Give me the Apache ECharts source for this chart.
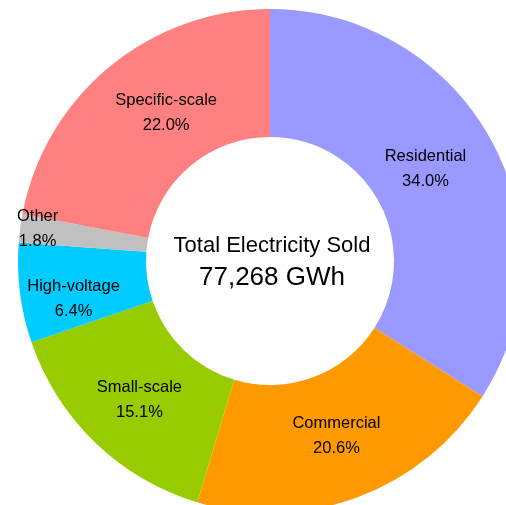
<!DOCTYPE html>
<html><head><meta charset="utf-8">
<script src="https://cdn.jsdelivr.net/npm/echarts@6/dist/echarts.min.js"></script>
<style>html,body{margin:0;padding:0;background:#fff}#c{width:506px;height:505px}</style>
</head><body><div id="c"></div>
<script>
const categories = ['Residential','Commercial','Small-scale','High-voltage','Other','Specific-scale'];
const values = [34.0, 20.6, 15.1, 6.4, 1.8, 22.0];
const colors = ['#9999FF','#FF9900','#99CC00','#00CCFF','#C0C0C0','#FF8080'];
const centerTitle = 'Total Electricity Sold';
const centerValue = '77,268 GWh';
const labelOffsets = {Residential:[-12,0], Commercial:[0,-4], 'High-voltage':[-7,14], Other:[-43,-7], 'Specific-scale':[18,-1], 'Small-scale':[2,1]};

const chart = echarts.init(document.getElementById('c'), null, {renderer:'canvas'});
chart.setOption({
  animation:false,
  title:{
    text:centerTitle+'\n{v|'+centerValue+'}',
    left:267, top:225, textAlign:'center',
    textStyle:{fontFamily:'Liberation Sans, Arial, sans-serif',fontSize:22,fontWeight:'normal',color:'#000',lineHeight:32,
      rich:{v:{fontSize:26,fontFamily:'Liberation Sans, Arial, sans-serif',color:'#000',lineHeight:32}}}
  },
  series:[{
    type:'pie',
    center:[270,261],
    radius:[124,252],
    startAngle:90,
    clockwise:true,
    avoidLabelOverlap:false,
    itemStyle:{borderWidth:0},
    label:{
      show:true, position:'inside',
      formatter:p=>p.name+'\n'+p.value.toFixed(1)+'%',
      fontFamily:'Liberation Sans, Arial, sans-serif', fontSize:16.5, color:'#000', lineHeight:25
    },
    labelLine:{show:false},
    emphasis:{disabled:true},
    data:categories.map((n,i)=>({name:n,value:values[i],itemStyle:{color:colors[i]},
      label: labelOffsets[n] ? {offset:labelOffsets[n]} : {}}))
  }]
});
</script></body></html>
